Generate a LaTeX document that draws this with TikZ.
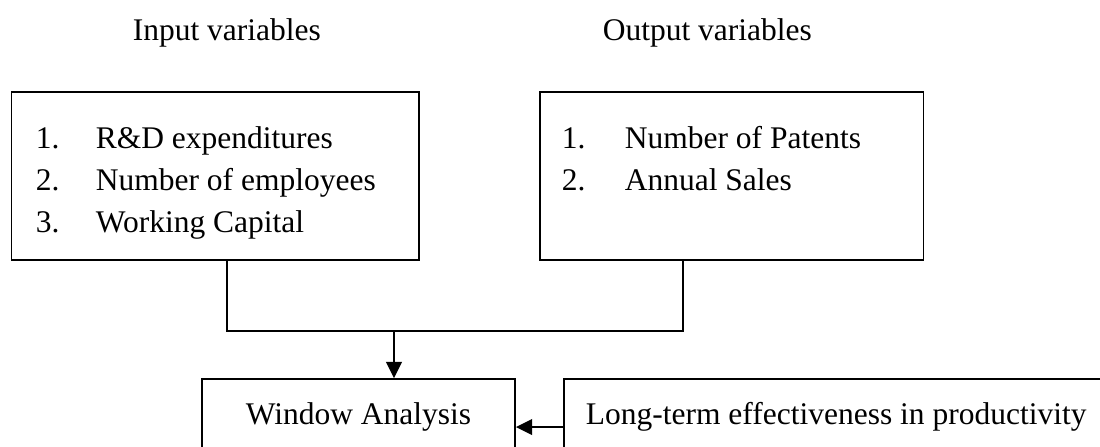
\documentclass[tikz,border=0pt]{standalone}
\usepackage{fontspec}
\setmainfont{Liberation Serif}
\usetikzlibrary{arrows.meta,positioning}

\begin{document}
\begin{tikzpicture}[x=0.381pt,y=-0.381pt,line width=0.65pt,
  every node/.style={font=\fontsize{12pt}{14pt}\selectfont,inner sep=0pt},
  box/.style={draw,inner sep=0pt},
  arr/.style={-{Triangle[length=6.2pt,width=6pt]}}]
\clip (0,0) rectangle (1100,446);
\node[anchor=base west] (inlabel) at (132,40) {Input variables};
\node[anchor=base west] (outlabel) at (602,40) {Output variables};
\node[box,anchor=north west,minimum width=155.2pt,minimum height=64pt] (inbox) at (10.7,91) {};
\node[box,anchor=north west,minimum width=146.2pt,minimum height=64pt] (outbox) at (539,91) {};
\foreach \n/\y/\txt in {1/148/R\&D expenditures,2/190/Number of employees,3/232/Working Capital}{
  \node[anchor=base west] (innum\n) at (35,\y) {\n.};
  \node[anchor=base west] (initem\n) at (95,\y) {\txt};
}
\foreach \n/\y/\txt in {1/148/Number of Patents,2/190/Annual Sales}{
  \node[anchor=base west] (outnum\n) at (561,\y) {\n.};
  \node[anchor=base west] (outitem\n) at (624,\y) {\txt};
}
\node[box,anchor=base,minimum width=119.3pt,text height=17.1pt,text depth=19.4pt] (window) at (358.5,424) {Window Analysis};
\node[box,anchor=base west,inner xsep=8.4pt,text height=17.1pt,text depth=19.4pt] (longterm) at (563,424) {Long-term effectiveness in productivity};
\coordinate (joinL) at (227,331);
\coordinate (joinR) at (683,331);
\coordinate (joinM) at (394,331);
\draw (inbox.south -| joinL) -- (joinL) -- (joinR) -- (outbox.south -| joinR);
\draw[arr] (joinM) -- (window.north -| joinM);
\draw[arr] (longterm.west) -- (window.east);
\end{tikzpicture}
\end{document}
